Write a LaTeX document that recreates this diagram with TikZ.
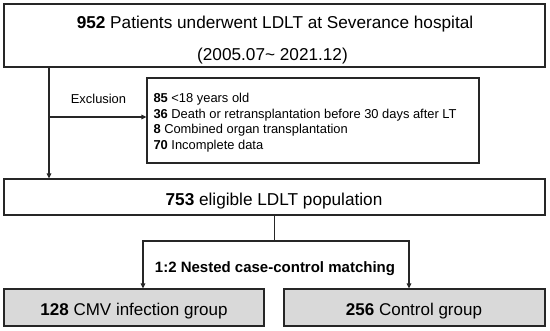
\documentclass[tikz,border=0pt]{standalone}
\usepackage{fontspec}
\setmainfont{Liberation Sans}
\usetikzlibrary{arrows.meta}
\begin{document}
\begin{tikzpicture}[x=1pt,y=-1pt,
  box/.style={draw=black!85, line width=1.2pt, inner sep=0pt},
  graybox/.style={box, fill=black!15},
  conn/.style={draw=black!85, line width=1.2pt},
  arr/.style={conn, -{Triangle[length=5pt,width=4.5pt]}},
  big/.style={font=\fontsize{17.2}{20}\selectfont, inner sep=0pt},
  small/.style={font=\fontsize{12.9}{15.5}\selectfont, inner sep=0pt}]
\useasboundingbox (0,0) rectangle (550,331);
% boxes
\node[box, minimum width=541pt, minimum height=63pt] (top) at (274.5,35.5) {};
\node[box, minimum width=332pt, minimum height=85pt] (excl) at (313,120.5) {};
\node[box, minimum width=541pt, minimum height=36pt] (elig) at (274.5,197) {};
\node[graybox, minimum width=260pt, minimum height=37pt] (cmv) at (134,307.5) {};
\node[graybox, minimum width=261pt, minimum height=37pt] (ctrl) at (414.5,307.5) {};
% texts
\node[big, anchor=base] (toptext1) at (275,28.7) {\textbf{952} Patients underwent LDLT at Severance hospital};
\node[big, anchor=base] (toptext2) at (272.5,61) {(2005.07\textasciitilde\ 2021.12)};
\node[small, anchor=north west, align=left] (excltext) at (153.3,93.1)
  {\textbf{85} <18 years old\\
   \textbf{36} Death or retransplantation before 30 days after LT\\
   \textbf{8} Combined organ transplantation\\
   \textbf{70} Incomplete data};
\node[small, anchor=base] (excllabel) at (98.5,103.3) {Exclusion};
\node[big, anchor=base] (eligtext) at (274,206) {\textbf{753} eligible LDLT population};
\node[font=\fontsize{15}{17}\selectfont\bfseries, inner sep=0pt, anchor=base] (matchlabel) at (275,272.7) {1:2 Nested case-control matching};
\node[big, font=\fontsize{17}{20}\selectfont, anchor=base] (cmvtext) at (134,315.5) {\textbf{128} CMV infection group};
\node[big, font=\fontsize{17}{20}\selectfont, anchor=base] (ctrltext) at (414,315.5) {\textbf{256} Control group};
% connectors
\coordinate (split) at (49,117);
\draw[arr] (top.south -| split) -- (elig.north -| split);
\draw[arr] (split) -- (excl.west |- split);
\coordinate (bl) at (143,241);
\coordinate (br) at (409,241);
\draw[conn] (elig.south) -- (elig.south |- bl);
\draw[arr] (elig.south |- bl) -- (bl) -- (cmv.north -| bl);
\draw[arr] (elig.south |- br) -- (br) -- (ctrl.north -| br);
\end{tikzpicture}
\end{document}
